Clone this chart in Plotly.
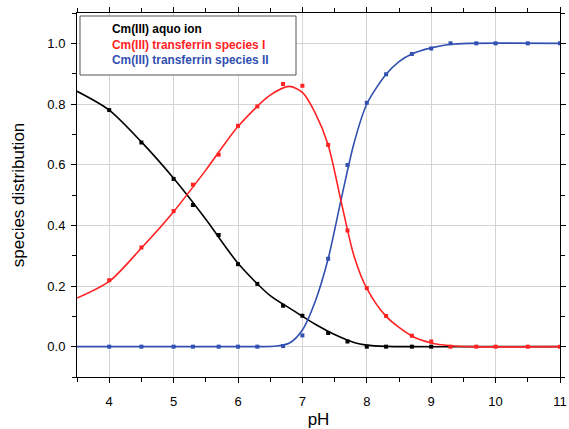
import plotly.graph_objects as go

# measured points
ph_pts = [4.0, 4.5, 5.0, 5.3, 5.7, 6.0, 6.3, 6.7, 7.0, 7.4, 7.7, 8.0, 8.3, 8.7, 9.0, 9.3, 9.7, 10.0, 10.5, 11.0]
aquo_pts = [0.780, 0.673, 0.553, 0.467, 0.368, 0.272, 0.207, 0.135, 0.102, 0.045, 0.017, 0.0, 0.0, 0.0, 0.0, None, None, None, None, None]
sp1_pts = [0.219, 0.327, 0.447, 0.534, 0.633, 0.728, 0.792, 0.866, 0.860, 0.665, 0.383, 0.193, 0.101, 0.036, 0.017, 0.0, 0.0, 0.0, 0.0, 0.0]
sp2_pts = [0.0, 0.0, 0.0, 0.0, 0.0, 0.0, 0.0, 0.002, 0.037, 0.290, 0.599, 0.804, 0.898, 0.965, 0.983, 1.0, 1.0, 1.0, 1.0, 1.0]

# fitted curves
ph_aquo_fit = [3.5, 4.0, 4.5, 5.0, 5.5, 6.0, 6.5, 6.8, 7.0, 7.2, 7.5, 7.8, 8.0, 8.3, 8.7, 9.5, 11.0]
aquo_fit = [0.842, 0.78, 0.675, 0.555, 0.42, 0.275, 0.168, 0.127, 0.10, 0.074, 0.04, 0.014, 0.005, 0.001, 0.0, 0.0, 0.0]
ph_sp1_fit = [3.5, 4.0, 4.5, 5.0, 5.5, 6.0, 6.5, 6.8, 7.0, 7.2, 7.4, 7.6, 7.8, 8.0, 8.3, 8.7, 9.0, 9.3, 9.6, 11.0]
sp1_fit = [0.16, 0.215, 0.325, 0.445, 0.582, 0.726, 0.829, 0.858, 0.838, 0.77, 0.665, 0.48, 0.3, 0.192, 0.1, 0.035, 0.012, 0.003, 0.0, 0.0]
ph_sp2_fit = [3.5, 6.3, 6.6, 6.8, 7.0, 7.2, 7.4, 7.6, 7.8, 8.0, 8.3, 8.5, 8.7, 9.0, 9.3, 9.6, 11.0]
sp2_fit = [0.0, 0.0, 0.002, 0.012, 0.055, 0.150, 0.29, 0.484, 0.67, 0.80, 0.898, 0.94, 0.965, 0.985, 0.997, 1.0, 1.0]

names = ["Cm(III) aquo ion", "Cm(III) transferrin species I", "Cm(III) transferrin species II"]
colors = ["#000000", "#ff2222", "#3150b0"]

FONT = "Liberation Sans, Arial, sans-serif"

fig = go.Figure()
fits = [(ph_aquo_fit, aquo_fit), (ph_sp1_fit, sp1_fit), (ph_sp2_fit, sp2_fit)]
pts = [aquo_pts, sp1_pts, sp2_pts]
order = [0, 2, 1]
for i in order:
    fx, fy = fits[i]
    fig.add_trace(go.Scatter(x=fx, y=fy, mode="lines", line=dict(color=colors[i], width=1.6, shape="spline", smoothing=0.8),
                             showlegend=False, hoverinfo="skip"))
for i in order:
    fig.add_trace(go.Scatter(x=ph_pts, y=pts[i], mode="markers", name=names[i],
                             marker=dict(symbol="square", size=4, color=colors[i]), showlegend=False,
                             cliponaxis=True))

axis_common = dict(showline=True, linecolor="black", linewidth=1, mirror="ticks", ticks="outside",
                   ticklen=5, tickcolor="black", showgrid=True, gridcolor="#d4d4d4", gridwidth=1,
                   zeroline=False, automargin=False, tickfont=dict(family=FONT, size=13, color="black"))

fig.update_layout(
    width=569, height=429,
    margin=dict(l=77, r=9, t=13, b=52),
    paper_bgcolor="white", plot_bgcolor="white",
    xaxis=dict(range=[3.5, 11], tick0=0, dtick=1, ticklabelstandoff=7,
               minor=dict(dtick=0.5, ticks="outside", ticklen=4, tickcolor="black", showgrid=False),
               title=dict(text="pH", font=dict(family=FONT, size=17, color="black"), standoff=5),
               **axis_common),
    yaxis=dict(range=[-0.1, 1.1], tick0=0, dtick=0.2, tickformat=".1f", ticklabelstandoff=3,
               minor=dict(dtick=0.1, ticks="outside", ticklen=4, tickcolor="black", showgrid=False),
               title=dict(text="species distribution", font=dict(family=FONT, size=17, color="black"), standoff=18),
               **axis_common),
)

# legend box
def px2paper_x(px):
    return (px - 77) / (560 - 77)

def px2paper_y(py):
    return (377 - py) / (377 - 13)

fig.add_shape(type="rect", xref="paper", yref="paper",
              x0=px2paper_x(80), x1=px2paper_x(296), y0=px2paper_y(75), y1=px2paper_y(16),
              fillcolor="white", line=dict(color="#555555", width=1), layer="above")
for i, yy in enumerate([29, 44.5, 60]):
    fig.add_annotation(xref="paper", yref="paper", x=px2paper_x(110), y=px2paper_y(yy),
                       xanchor="left", yanchor="middle", showarrow=False,
                       text="<b>" + names[i] + "</b>",
                       font=dict(family=FONT, size=11.9, color=colors[i]))

fig.write_html("out.html")
